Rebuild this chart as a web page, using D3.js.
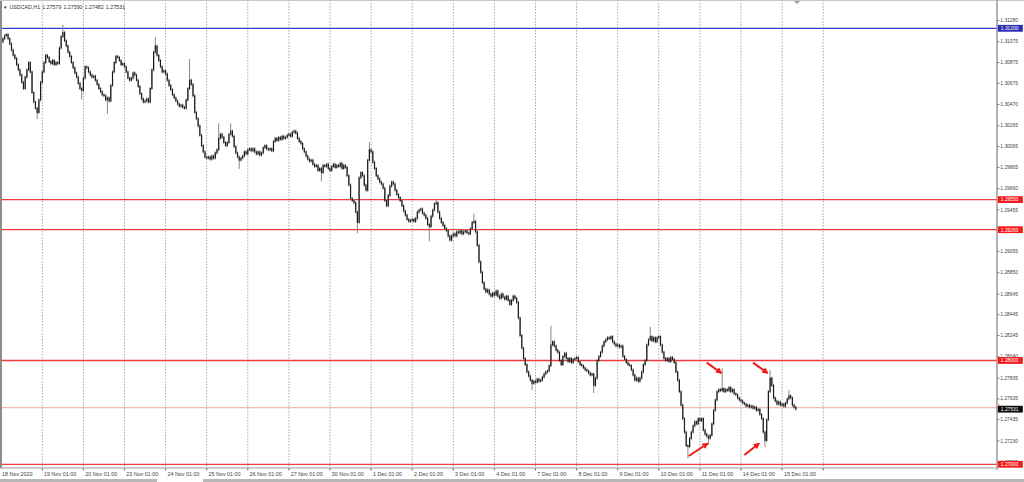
<!DOCTYPE html>
<html>
<head>
<meta charset="utf-8">
<script src="https://cdn.jsdelivr.net/npm/d3@7"></script>
<style>
  body { margin: 0; background: #fff; }
  svg { display: block; font-family: "Liberation Sans", Arial, sans-serif; }
</style>
</head>
<body>
<div id="chart"></div>
<script>
// header: symbol + O H L C of the last bar
const symbolInfo = ["USDCAD,H1", "1.27579", "1.27590", "1.27482", "1.27531"];

// one label per trading day (grid every 24 H1 bars)
const dayLabels = ["18 Nov 2020", "19 Nov 01:00", "20 Nov 01:00", "23 Nov 01:00", "24 Nov 01:00",
  "25 Nov 01:00", "26 Nov 01:00", "27 Nov 01:00", "30 Nov 01:00", "1 Dec 01:00", "2 Dec 01:00",
  "3 Dec 01:00", "4 Dec 01:00", "7 Dec 01:00", "8 Dec 01:00", "9 Dec 01:00", "10 Dec 01:00",
  "11 Dec 01:00", "14 Dec 01:00", "15 Dec 01:00", ""];

// 1.29250 sits under the 1.29260 tag, so it is not shown
const yTicks = [1.31280, 1.31075, 1.30875, 1.30675, 1.30470, 1.30265, 1.30065, 1.29865, 1.29660,
  1.29455, 1.29055, 1.28850, 1.28645, 1.28445, 1.28245, 1.28040, 1.27835, 1.27635,
  1.27435, 1.27230, 1.27025];

// horizontal levels drawn on the chart (first one blue, rest red)
const levels = [1.31200, 1.29550, 1.29260, 1.28000, 1.27000];
const lastPrice = 1.27531;

// H1 closes, 24 per day
const firstOpen = 1.3103;
const closes = [
  // 18 Nov
  1.3107, 1.3110, 1.3113, 1.3114, 1.3110, 1.3105, 1.3099, 1.3094, 1.3091, 1.3085, 1.3080, 1.3075,
  1.3068, 1.3062, 1.3073, 1.3080, 1.3087, 1.3078, 1.3058, 1.3049, 1.3043, 1.3039, 1.3051, 1.3068,
  // 19 Nov
  1.3078, 1.3087, 1.3094, 1.3092, 1.3088, 1.3086, 1.3089, 1.3085, 1.3087, 1.3086, 1.3101, 1.3112,
  1.3116, 1.3108, 1.3103, 1.3097, 1.3093, 1.3087, 1.3082, 1.3077, 1.3073, 1.3067, 1.3062, 1.3060,
  // 20 Nov
  1.3072, 1.3083, 1.3082, 1.3078, 1.3075, 1.3073, 1.3074, 1.3070, 1.3066, 1.3062, 1.3059, 1.3056,
  1.3055, 1.3051, 1.3053, 1.3050, 1.3065, 1.3078, 1.3087, 1.3093, 1.3092, 1.3089, 1.3085, 1.3086,
  // 23 Nov
  1.3083, 1.3078, 1.3072, 1.3070, 1.3072, 1.3077, 1.3075, 1.3070, 1.3064, 1.3057, 1.3052, 1.3049,
  1.3050, 1.3052, 1.3049, 1.3062, 1.3080, 1.3097, 1.3103, 1.3094, 1.3089, 1.3083, 1.3078, 1.3079,
  // 24 Nov
  1.3076, 1.3070, 1.3065, 1.3061, 1.3056, 1.3053, 1.3050, 1.3047, 1.3045, 1.3046, 1.3044, 1.3043,
  1.3051, 1.3062, 1.3070, 1.3066, 1.3055, 1.3039, 1.3033, 1.3026, 1.3017, 1.3007, 1.3001, 1.2996,
  // 25 Nov
  1.2995, 1.2996, 1.2994, 1.2997, 1.2995, 1.3000, 1.3003, 1.3014, 1.3018, 1.3015, 1.3010, 1.3007,
  1.3010, 1.3018, 1.3021, 1.3016, 1.3006, 1.3000, 1.2996, 1.2993, 1.2995, 1.2997, 1.3001, 1.2999,
  // 26 Nov
  1.3003, 1.3004, 1.3002, 1.3004, 1.3001, 1.2999, 1.3001, 1.2998, 1.3000, 1.3005, 1.3007, 1.3004,
  1.3003, 1.3004, 1.3002, 1.3011, 1.3014, 1.3012, 1.3015, 1.3013, 1.3016, 1.3014, 1.3015, 1.3017,
  // 27 Nov
  1.3018, 1.3016, 1.3020, 1.3021, 1.3019, 1.3014, 1.3011, 1.3009, 1.3004, 1.3001, 1.2997, 1.2994,
  1.2992, 1.2993, 1.2989, 1.2987, 1.2988, 1.2983, 1.2985, 1.2981, 1.2988, 1.2987, 1.2989, 1.2985,
  // 30 Nov
  1.2983, 1.2987, 1.2989, 1.2986, 1.2988, 1.2987, 1.2990, 1.2985, 1.2988, 1.2986, 1.2978, 1.2969,
  1.2956, 1.2954, 1.2952, 1.2943, 1.2933, 1.2976, 1.2981, 1.2978, 1.2969, 1.2964, 1.2993, 1.3003,
  // 1 Dec
  1.3001, 1.2991, 1.2985, 1.2978, 1.2975, 1.2972, 1.2970, 1.2966, 1.2954, 1.2949, 1.2959, 1.2968,
  1.2972, 1.2970, 1.2964, 1.2960, 1.2957, 1.2954, 1.2949, 1.2944, 1.2940, 1.2936, 1.2934, 1.2935,
  // 2 Dec
  1.2936, 1.2934, 1.2937, 1.2943, 1.2945, 1.2946, 1.2942, 1.2940, 1.2937, 1.2931, 1.2929, 1.2939,
  1.2945, 1.2951, 1.2952, 1.2943, 1.2937, 1.2933, 1.2930, 1.2927, 1.2925, 1.2920, 1.2916, 1.2920,
  // 3 Dec
  1.2922, 1.2920, 1.2924, 1.2923, 1.2925, 1.2922, 1.2924, 1.2925, 1.2923, 1.2922, 1.2927, 1.2933,
  1.2934, 1.2924, 1.2911, 1.2895, 1.2885, 1.2875, 1.2869, 1.2866, 1.2868, 1.2864, 1.2862, 1.2865,
  // 4 Dec
  1.2863, 1.2867, 1.2862, 1.2860, 1.2864, 1.2861, 1.2859, 1.2862, 1.2858, 1.2854, 1.2858, 1.2862,
  1.2860, 1.2856, 1.2841, 1.2824, 1.2812, 1.2802, 1.2796, 1.2789, 1.2785, 1.2781, 1.2778, 1.2780,
  // 7 Dec
  1.2779, 1.2782, 1.2780, 1.2781, 1.2784, 1.2787, 1.2789, 1.2790, 1.2795, 1.2815, 1.2818, 1.2814,
  1.2810, 1.2808, 1.2800, 1.2796, 1.2804, 1.2807, 1.2802, 1.2799, 1.2802, 1.2798, 1.2801, 1.2802,
  // 8 Dec
  1.2803, 1.2799, 1.2796, 1.2795, 1.2793, 1.2791, 1.2790, 1.2788, 1.2786, 1.2787, 1.2776, 1.2783,
  1.2800, 1.2804, 1.2808, 1.2814, 1.2818, 1.2820, 1.2822, 1.2821, 1.2823, 1.2818, 1.2816, 1.2814,
  // 9 Dec
  1.2815, 1.2813, 1.2814, 1.2804, 1.2801, 1.2798, 1.2796, 1.2795, 1.2791, 1.2786, 1.2781, 1.2783,
  1.2780, 1.2783, 1.2789, 1.2796, 1.2800, 1.2815, 1.2820, 1.2823, 1.2819, 1.2822, 1.2818, 1.2822,
  // 10 Dec
  1.2823, 1.2815, 1.2808, 1.2802, 1.2800, 1.2802, 1.2799, 1.2803, 1.2801, 1.2798, 1.2789, 1.2781,
  1.2770, 1.2757, 1.2744, 1.2731, 1.2718, 1.2717, 1.2725, 1.2731, 1.2737, 1.2741, 1.2739, 1.2744,
  // 11 Dec
  1.2742, 1.2744, 1.2733, 1.2729, 1.2727, 1.2725, 1.2728, 1.2739, 1.2752, 1.2762, 1.2770, 1.2772,
  1.2771, 1.2773, 1.2770, 1.2772, 1.2771, 1.2774, 1.2770, 1.2772, 1.2768, 1.2767, 1.2764, 1.2762,
  // 14 Dec
  1.2761, 1.2759, 1.2758, 1.2756, 1.2757, 1.2755, 1.2756, 1.2754, 1.2755, 1.2752, 1.2753, 1.2748,
  1.2744, 1.2731, 1.2723, 1.2743, 1.2770, 1.2783, 1.2776, 1.2764, 1.2761, 1.2758, 1.2760, 1.2757,
  // 15 Dec
  1.2758, 1.2756, 1.2759, 1.2763, 1.2766, 1.2764, 1.2757, 1.2755, 1.27531
];

// visible wick extremes: [bar index, high or low]
const wicks = [[21, 1.3034], [36, 1.3122], [47, 1.3053], [62, 1.3039], [90, 1.3110], [110, 1.3089],
  [127, 1.3027], [134, 1.3027], [139, 1.2986], [187, 1.2974], [208, 1.2924], [215, 1.3009],
  [250, 1.2916], [254, 1.2954], [276, 1.2940], [310, 1.2773], [321, 1.2832], [346, 1.2770],
  [379, 1.2831], [401, 1.2707], [413, 1.2720], [421, 1.2791], [446, 1.2718], [449, 1.2789],
  [460, 1.2770]];

// red annotation arrows: [bar from, price from, bar to, price to]
const arrows = [[412, 1.2798, 420.5, 1.2788], [439, 1.2798, 447.5, 1.2788],
  [401.5, 1.2708, 412.5, 1.2720], [434, 1.2709, 442.5, 1.2720]];

const W = 1024, H = 482;
const plotRight = 997, plotBottom = 468;

const svg = d3.select("#chart").append("svg")
  .attr("width", W).attr("height", H);

// bar index -> px, price -> px
const x = d3.scaleLinear().domain([0, 1]).range([1.2, 2.9125]);
const y = d3.scaleLinear().domain([1.27000, 1.31200]).range([464.3, 28.3]);

svg.append("rect").attr("width", W).attr("height", H).attr("fill", "#fff");

// ---------------------------//
//        GRID                //
// ---------------------------//
const gridDays = d3.range(1, dayLabels.length);
svg.append("g").selectAll("line")
  .data(gridDays).enter().append("line")
  .attr("x1", d => x(d * 24)).attr("x2", d => x(d * 24))
  .attr("y1", 0).attr("y2", plotBottom + 2)
  .attr("stroke", "#a8a8a8").attr("stroke-width", 1)
  .attr("stroke-dasharray", "1.5,1.5");

// ---------------------------//
//        LEVELS              //
// ---------------------------//
svg.append("line")
  .attr("x1", 0).attr("x2", plotRight)
  .attr("y1", y(lastPrice) - 1.5).attr("y2", y(lastPrice) - 1.5)
  .attr("stroke", "#f3b9b2").attr("stroke-width", 1.2);

svg.append("g").selectAll("line")
  .data(levels).enter().append("line")
  .attr("x1", 0).attr("x2", plotRight)
  .attr("y1", d => y(d)).attr("y2", d => y(d))
  .attr("stroke", (d, i) => i === 0 ? "#3a3ac8" : "#f03a3a")
  .attr("stroke-width", 1.3);

// ---------------------------//
//        CANDLES             //
// ---------------------------//
const bars = closes.map((c, i) => {
  const o = i === 0 ? firstOpen : closes[i - 1];
  return { i: i, o: o, c: c, h: Math.max(o, c), l: Math.min(o, c) };
});
wicks.forEach(w => {
  const b = bars[w[0]];
  if (w[1] > b.h) b.h = w[1];
  if (w[1] < b.l) b.l = w[1];
});

const candles = svg.append("g");
candles.selectAll("line")
  .data(bars).enter().append("line")
  .attr("x1", d => x(d.i)).attr("x2", d => x(d.i))
  .attr("y1", d => y(d.h) - 1.5).attr("y2", d => y(d.l) + 1.5)
  .attr("stroke", "#8a8a8a").attr("stroke-width", 1);

candles.selectAll("rect")
  .data(bars).enter().append("rect")
  .attr("x", d => x(d.i) - 0.6)
  .attr("width", 1.2)
  .attr("y", d => y(Math.max(d.o, d.c)) - 0.5)
  .attr("height", d => Math.max(1.1, y(Math.min(d.o, d.c)) - y(Math.max(d.o, d.c)) + 1))
  .attr("fill", "#1a1a1a");

// ---------------------------//
//        ARROWS              //
// ---------------------------//
svg.append("defs").append("marker")
  .attr("id", "head").attr("viewBox", "0 0 10 10")
  .attr("refX", 8).attr("refY", 5)
  .attr("markerWidth", 3.2).attr("markerHeight", 3.2)
  .attr("orient", "auto")
  .append("path").attr("d", "M0,0 L10,5 L0,10 z").attr("fill", "#f01818");

svg.append("g").selectAll("line")
  .data(arrows).enter().append("line")
  .attr("x1", d => x(d[0])).attr("y1", d => y(d[1]))
  .attr("x2", d => x(d[2])).attr("y2", d => y(d[3]))
  .attr("stroke", "#f01818").attr("stroke-width", 2)
  .attr("marker-end", "url(#head)");

// ---------------------------//
//        FRAME               //
// ---------------------------//
svg.append("rect").attr("x", 0).attr("y", 0).attr("width", 2).attr("height", plotBottom)
  .attr("fill", "#8c8c8c");
svg.append("line").attr("x1", 0).attr("x2", W).attr("y1", 0.5).attr("y2", 0.5)
  .attr("stroke", "#c8c8c8");
svg.append("line").attr("x1", plotRight).attr("x2", plotRight).attr("y1", 0).attr("y2", plotBottom + 2)
  .attr("stroke", "#9a9a9a").attr("stroke-width", 1.5);
svg.append("line").attr("x1", 0).attr("x2", plotRight).attr("y1", plotBottom).attr("y2", plotBottom)
  .attr("stroke", "#9a9a9a").attr("stroke-width", 1.2);
svg.append("path").attr("d", "M794,1 L800,1 L797,4 z").attr("fill", "#9a9a9a");
svg.append("rect").attr("x", 0).attr("y", 479).attr("width", 157).attr("height", 3).attr("fill", "#b8b8b8");
svg.append("rect").attr("x", 203).attr("y", 479).attr("width", W - 203).attr("height", 3).attr("fill", "#b8b8b8");

// ---------------------------//
//        AXES                //
// ---------------------------//
const yAxis = svg.append("g")
  .attr("transform", "translate(" + plotRight + ",0)")
  .call(d3.axisRight(y).tickValues(yTicks).tickFormat(d3.format(".5f")).tickSize(2.5).tickPadding(0.8));
yAxis.select(".domain").remove();
yAxis.selectAll("line").attr("stroke", "#777");
yAxis.selectAll("text").attr("fill", "#444").attr("font-size", "4.9px").attr("font-family", "Liberation Sans, Arial, sans-serif");

svg.append("g").selectAll("line")
  .data(gridDays).enter().append("line")
  .attr("x1", d => x(d * 24)).attr("x2", d => x(d * 24))
  .attr("y1", plotBottom).attr("y2", plotBottom + 2.5)
  .attr("stroke", "#777");

svg.append("g").selectAll("text")
  .data(dayLabels).enter().append("text")
  .attr("x", (d, i) => i === 0 ? 2 : x(i * 24) + 1.8)
  .attr("y", 476)
  .attr("font-size", "5.4px").attr("fill", "#444")
  .text(d => d);

// price boxes on the right axis
const tags = levels.map((v, i) => ({ v: v, bg: i === 0 ? "#2a2ab4" : "#f41a1a" }))
  .concat([{ v: lastPrice, bg: "#0c0c0c" }]);
const tagG = svg.append("g").selectAll("g")
  .data(tags).enter().append("g")
  .attr("transform", d => "translate(" + (plotRight + 0.8) + "," + y(d.v) + ")");
tagG.append("rect").attr("x", 0).attr("y", -3.4).attr("width", 25).attr("height", 6.8)
  .attr("fill", d => d.bg);
tagG.append("text").attr("x", 3).attr("y", 1.8)
  .attr("font-size", "4.9px").attr("fill", "#fff")
  .text(d => d3.format(".5f")(d.v));
svg.append("line").attr("x1", plotRight).attr("x2", plotRight + 3)
  .attr("y1", y(lastPrice) - 4.2).attr("y2", y(lastPrice) - 4.2)
  .attr("stroke", "#f08020").attr("stroke-width", 1);

// header text
const head = svg.append("g").attr("font-size", "5.3px").attr("fill", "#333");
head.append("text").attr("x", 3).attr("y", 8.5).attr("font-size", "4.5px").text("\u25BC");
head.selectAll("text.info")
  .data(symbolInfo).enter().append("text")
  .attr("class", "info")
  .attr("x", (d, i) => i === 0 ? 9.5 : 21 + i * 21.2)
  .attr("y", 8.5)
  .text(d => d);
</script>
</body>
</html>
